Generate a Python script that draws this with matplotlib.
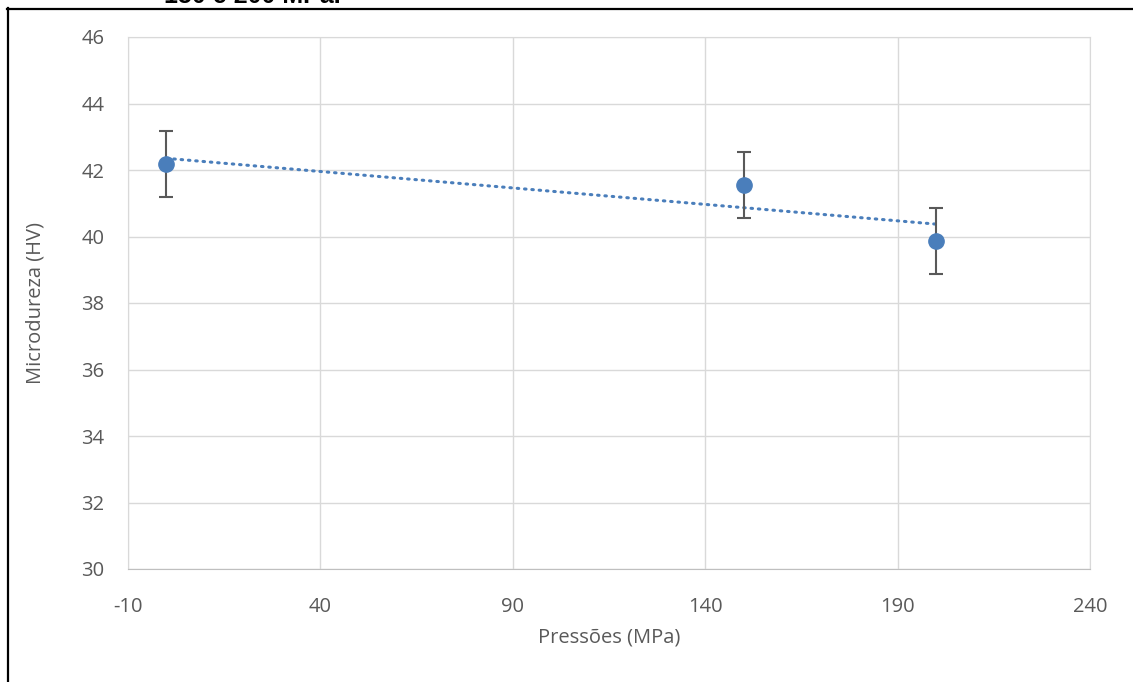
import numpy as np
import matplotlib.pyplot as plt
from matplotlib.lines import Line2D

pressao = [0, 150, 200]
dureza = [42.18, 41.55, 39.86]
erro = [1.0, 1.0, 1.0]

cor = "#4A7EBB"
cinza = "#595959"

plt.rcParams["font.family"] = ["Open Sans", "DejaVu Sans"]
plt.rcParams["axes.unicode_minus"] = False

fig = plt.figure(figsize=(11.33, 6.82), dpi=100)
ax = fig.add_axes([128/1133, 1 - 569/682, (1090 - 128)/1133, (569 - 37)/682])

# linha de tendencia (linear)
a, b = np.polyfit(pressao, dureza, 1)
xt = np.array([min(pressao), max(pressao)])
ax.plot(xt, a*xt + b, color=cor, lw=2.2, linestyle=(0, (0.5, 1.9)),
        dash_capstyle="round", zorder=2)

ax.errorbar(pressao, dureza, yerr=erro, fmt="o", color=cor, ms=11,
            ecolor=cinza, elinewidth=1.5, capsize=5, capthick=1.5, zorder=3)

ax.set_xlim(-10, 240)
ax.set_ylim(30, 46)
ax.set_xticks(np.arange(-10, 241, 50))
ax.set_yticks(np.arange(30, 47, 2))
ax.grid(True, color="#D9D9D9", lw=1)
ax.set_axisbelow(True)
for s in ax.spines.values():
    s.set_color("#D9D9D9")
ax.spines["bottom"].set_color("#BFBFBF")
ax.tick_params(length=0, labelsize=14.5, labelcolor=cinza)
ax.tick_params(axis="x", pad=20)
ax.tick_params(axis="y", pad=17)

ax.set_xlabel("Pressões (MPa)", fontsize=14.5, color=cinza, labelpad=8)
ax.set_ylabel("Microdureza (HV)", fontsize=14.5, color=cinza, labelpad=26)

# moldura e titulo cortado no topo
fig.add_artist(Line2D([7.5/1133, 7.5/1133], [0, 1 - 8/682], color="black", lw=1.6))
fig.add_artist(Line2D([7/1133, 1], [1 - 8.5/682, 1 - 8.5/682], color="black", lw=1.6))
fig.text(252/1133, 1 - 3/682, "150 e 200 MPa.", fontsize=18, fontweight="bold",
         family="Liberation Sans", ha="center", va="baseline", color="black")

fig.savefig("out.png", dpi=100)
